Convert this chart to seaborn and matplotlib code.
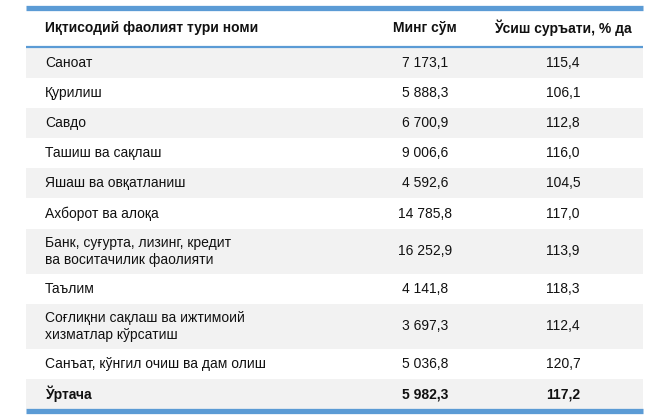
import matplotlib
matplotlib.use("Agg")
import matplotlib.pyplot as plt
import seaborn as sns

categories = ["Саноат", "Қурилиш", "Савдо", "Ташиш ва сақлаш", "Яшаш ва овқатланиш",
              "Ахборот ва алоқа", "Банк, суғурта, лизинг, кредит\nва воситачилик фаолияти",
              "Таълим", "Соғлиқни сақлаш ва ижтимоий\nхизматлар кўрсатиш",
              "Санъат, кўнгил очиш ва дам олиш", "Ўртача"]
thousand_sum = ["7 173,1", "5 888,3", "6 700,9", "9 006,6", "4 592,6", "14 785,8",
                "16 252,9", "4 141,8", "3 697,3", "5 036,8", "5 982,3"]
growth = ["115,4", "106,1", "112,8", "116,0", "104,5", "117,0", "113,9", "118,3",
          "112,4", "120,7", "117,2"]
headers = ["Иқтисодий фаолият тури номи", "Минг сўм", "Ўсиш суръати, % да"]

sns.set_theme(style="white")
plt.rcParams['font.family'] = ['Liberation Sans', 'DejaVu Sans']

fig = plt.figure(figsize=(6.64, 4.16), dpi=100)
ax = fig.add_axes([0, 0, 1, 1])
ax.set_xlim(0, 664)
ax.set_ylim(416, 0)
ax.axis("off")

L, R = 26, 643
blue = "#5b9bd5"
fs = 10
ax.plot([L, R], [8, 8], color=blue, lw=3.8, solid_capstyle="butt")
ax.text(45, 28, headers[0], fontsize=fs, weight="bold", va="center", color="#111")
ax.text(425, 28, headers[1], fontsize=fs, weight="bold", va="center", ha="center", color="#111")
ax.text(563, 28, headers[2], fontsize=fs, weight="bold", va="center", ha="center", color="#111")

y = 48
h = 30.1
for i, (c, v, g) in enumerate(zip(categories, thousand_sum, growth)):
    rh = h * 1.5 if "\n" in c else h
    if i % 2 == 0:
        ax.axhspan(y, y + rh, xmin=L / 664, xmax=R / 664, color="#f2f2f2", lw=0)
    cy = y + rh / 2
    w = "bold" if c == "Ўртача" else "normal"
    ax.text(45, cy, c, fontsize=fs, va="center", weight=w, color="#111", linespacing=1.25)
    ax.text(425, cy, v, fontsize=fs, va="center", ha="center", weight=w, color="#111")
    ax.text(563, cy, g, fontsize=fs, va="center", ha="center", weight=w, color="#111")
    y += rh
ax.plot([L, R], [47, 47], color=blue, lw=1.6, solid_capstyle="butt")
ax.plot([L, R], [y + 2, y + 2], color=blue, lw=3.8, solid_capstyle="butt")

fig.savefig("out.png", dpi=100, facecolor="white")
